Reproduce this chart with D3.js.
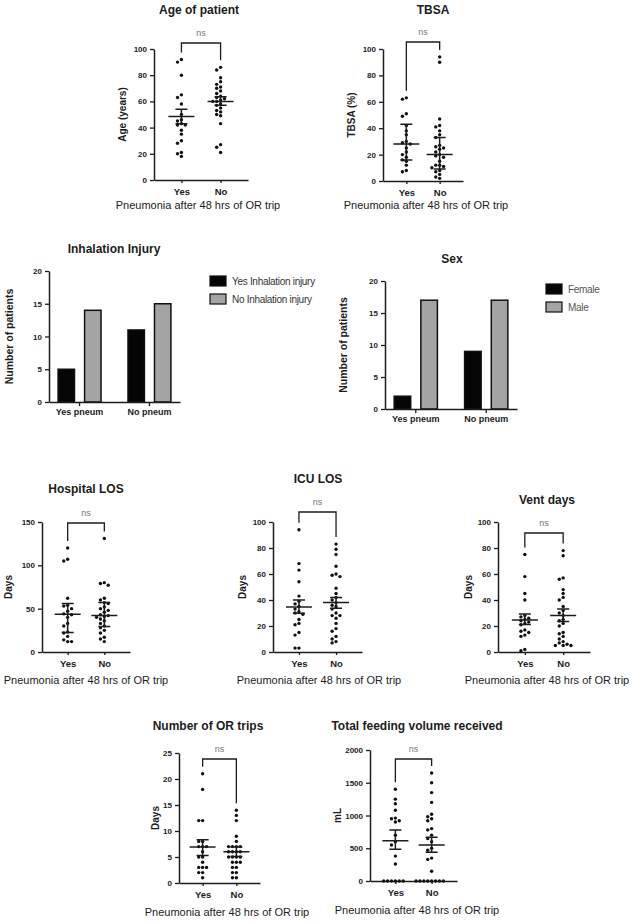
<!DOCTYPE html>
<html>
<head>
<meta charset="utf-8">
<script src="https://cdn.jsdelivr.net/npm/d3@7"></script>
<style>
  body { margin: 0; background: #fff; }
  svg { font-family: "Liberation Sans", Arial, sans-serif; }
</style>
</head>
<body>
<div id="chart"></div>
<script>
// groups on every scatter panel
var groups = ['Yes', 'No'];

// individual patient values (Yes n=19, No n=26)
var ageYes = [92, 90, 80, 65, 63, 58, 50, 46, 45, 43, 42, 42, 38, 35, 30, 28, 21, 20, 18];
var ageNo = [86, 84, 78, 75, 73, 71, 70, 68, 66, 64, 63, 62, 61, 60, 60, 58, 57, 55, 53, 52, 50, 49, 43, 27, 25, 21];
var tbsaYes = [63, 62, 51, 49, 42, 38, 35, 30, 29, 28, 25, 22, 20, 18, 16, 15, 12, 8, 7];
var tbsaNo = [94, 90, 47, 42, 41, 38, 35, 33, 27, 26, 25, 24, 22, 20, 19, 18, 15, 12, 12, 11, 10, 8, 7, 5, 3, 2];
var hospYes = [120, 107, 105, 62, 54, 53, 50, 47, 44, 43, 40, 33, 30, 23, 22, 18, 14, 12, 12];
var hospNo = [131, 80, 79, 77, 62, 60, 57, 56, 52, 50, 48, 46, 43, 42, 41, 40, 38, 36, 33, 30, 28, 25, 22, 17, 15, 12];
var icuYes = [94, 68, 63, 54, 43, 39, 37, 35, 33, 31, 30, 29, 25, 22, 21, 15, 13, 3, 3];
var icuNo = [83, 79, 75, 66, 60, 59, 58, 49, 45, 42, 40, 38, 36, 35, 33, 30, 28, 28, 26, 22, 18, 16, 12, 10, 8, 7];
var ventYes = [75, 58, 45, 40, 28, 27, 26, 25, 24, 23, 22, 21, 17, 16, 15, 13, 12, 2, 1];
var ventNo = [78, 74, 57, 56, 48, 45, 42, 40, 35, 32, 30, 28, 25, 24, 22, 20, 15, 14, 12, 10, 8, 7, 6, 5, 5, 5];
var orYes = [21, 18, 12, 12, 8, 8, 7, 7, 7, 6, 5, 5, 4, 3, 3, 3, 2, 2, 1];
var orNo = [14, 13, 12, 9, 8, 7, 7, 7, 7, 6, 6, 6, 6, 5, 5, 5, 5, 4, 4, 4, 3, 3, 2, 2, 1, 1];
var feedYes = [1400, 1250, 1180, 1080, 960, 950, 920, 900, 700, 600, 550, 380, 260, 0, 0, 0, 0, 0, 0];
var feedNo = [1650, 1500, 1350, 1200, 1020, 980, 950, 920, 800, 780, 700, 650, 600, 500, 470, 350, 330, 150, 0, 0, 0, 0, 0, 0, 0, 0];

// centre line and error bar ends [centre, low, high] for Yes and No
var ageSummary = [[48.5, 43, 54], [60, 57, 63.5]];
var tbsaSummary = [[28, 16, 43], [20, 9, 33]];
var hospSummary = [[43.5, 22.5, 56], [42, 29.5, 57]];
var icuSummary = [[34.7, 29.8, 40], [38, 33.7, 42]];
var ventSummary = [[24.7, 21.2, 29.3], [28, 23.5, 33]];
var orSummary = [[6.9, 5.3, 8.3], [6, 5.1, 6.9]];
var feedSummary = [[616, 483, 778], [550, 438, 667]];

// bar charts
var barCats = ['Yes pneum', 'No pneum'];
var inhalSeries = ['Yes Inhalation injury', 'No Inhalation injury'];
var inhalYes = [5, 11];
var inhalNo = [14, 15];
var sexSeries = ['Female', 'Male'];
var sexFemale = [2, 9];
var sexMale = [17, 17];

var xTitle = 'Pneumonia after 48 hrs of OR trip';
var ink = '#1c1c1c';

var svg = d3.select('#chart').append('svg')
    .attr('width', 633)
    .attr('height', 923);

var scatterPanels = [
  {title: 'Age of patient', ylab: 'Age (years)', vals: [ageYes, ageNo], sum: ageSummary,
   domain: [0, 100], ticks: d3.range(0, 101, 20), ax: 154, x1: 248, y0: 180, y1: 49,
   titleX: 199, titleY: 10, bracketY: 43, ylabX: 122, xlabX: 198, xlabY: 205},
  {title: 'TBSA', ylab: 'TBSA (%)', vals: [tbsaYes, tbsaNo], sum: tbsaSummary,
   domain: [0, 100], ticks: d3.range(0, 101, 20), ax: 383, x1: 463, y0: 181, y1: 49,
   titleX: 433, titleY: 10, bracketY: 42, ylabX: 351, xlabX: 426, xlabY: 205},
  {title: 'Hospital LOS', ylab: 'Days', vals: [hospYes, hospNo], sum: hospSummary,
   domain: [0, 150], ticks: [0, 50, 100, 150], ax: 42, x1: 130, y0: 652, y1: 522,
   titleX: 86, titleY: 489, bracketY: 523, ylabX: 8, xlabX: 86, xlabY: 680},
  {title: 'ICU LOS', ylab: 'Days', vals: [icuYes, icuNo], sum: icuSummary,
   domain: [0, 100], ticks: d3.range(0, 101, 20), ax: 273, x1: 362, y0: 652, y1: 522,
   titleX: 318, titleY: 479, bracketY: 512, ylabX: 242, xlabX: 319, xlabY: 680},
  {title: 'Vent days', ylab: 'Days', vals: [ventYes, ventNo], sum: ventSummary,
   domain: [0, 100], ticks: d3.range(0, 101, 20), ax: 498, x1: 590, y0: 652, y1: 522,
   titleX: 547, titleY: 500, bracketY: 533, ylabX: 468, xlabX: 547, xlabY: 680},
  {title: 'Number of OR trips', ylab: 'Days', vals: [orYes, orNo], sum: orSummary,
   domain: [0, 25], ticks: d3.range(0, 26, 5), ax: 179, x1: 260, y0: 883, y1: 753,
   titleX: 208, titleY: 726, bracketY: 759, ylabX: 155, xlabX: 227, xlabY: 912},
  {title: 'Total feeding volume received', ylab: 'mL', vals: [feedYes, feedNo], sum: feedSummary,
   domain: [0, 2000], ticks: d3.range(0, 2001, 500), ax: 370, x1: 457, y0: 881, y1: 750,
   titleX: 417, titleY: 726, bracketY: 759, ylabX: 337, xlabX: 417, xlabY: 910}
];

// spread points with close values sideways so they do not overlap
function swarm(vals, cx, y) {
  var placed = [];
  vals.slice().sort(d3.descending).forEach(function(v) {
    var py = y(v);
    for (var k = 0; k < 40; k++) {
      var px = cx + (k % 2 ? -1 : 1) * Math.ceil(k / 2) * 3.9;
      var free = placed.every(function(q) {
        return (q.x - px) * (q.x - px) + (q.y - py) * (q.y - py) >= 3.7 * 3.7;
      });
      if (free) { placed.push({x: px, y: py}); break; }
    }
  });
  return placed;
}

function styleAxis(sel, size, weight) {
  sel.select('.domain').attr('stroke', ink).attr('stroke-width', 1.5);
  sel.selectAll('.tick line').attr('stroke', ink).attr('stroke-width', 1.3);
  sel.selectAll('.tick text')
    .attr('fill', ink)
    .attr('font-family', '"Liberation Sans", Arial, sans-serif')
    .attr('font-size', size)
    .attr('font-weight', weight);
}

function drawScatter(p) {
  var y = d3.scaleLinear().domain(p.domain).range([p.y0, p.y1]);
  var x = d3.scalePoint().domain(groups).range([p.ax, p.x1]).padding(0.7);
  var g = svg.append('g');

  g.append('g')
    .attr('transform', 'translate(' + p.ax + ',0)')
    .call(d3.axisLeft(y).tickValues(p.ticks).tickFormat(d3.format('d'))
      .tickSize(4).tickSizeOuter(0).tickPadding(3))
    .call(styleAxis, 8, 'bold');

  g.append('g')
    .attr('transform', 'translate(0,' + p.y0 + ')')
    .call(d3.axisBottom(x).tickSize(3).tickSizeOuter(0).tickPadding(5))
    .call(styleAxis, 9.5, 'bold');

  groups.forEach(function(grp, i) {
    var cx = x(grp);
    g.selectAll(null)
      .data(swarm(p.vals[i], cx, y))
      .enter().append('circle')
      .attr('cx', function(d) { return d.x; })
      .attr('cy', function(d) { return d.y; })
      .attr('r', 1.7)
      .attr('fill', '#111');

    var s = p.sum[i];
    var path = d3.path();
    path.moveTo(cx - 13, y(s[0])); path.lineTo(cx + 13, y(s[0]));
    path.moveTo(cx, y(s[1])); path.lineTo(cx, y(s[2]));
    path.moveTo(cx - 6, y(s[1])); path.lineTo(cx + 6, y(s[1]));
    path.moveTo(cx - 6, y(s[2])); path.lineTo(cx + 6, y(s[2]));
    g.append('path')
      .attr('d', path.toString())
      .attr('fill', 'none')
      .attr('stroke', ink)
      .attr('stroke-width', 1.5);
  });

  // significance bracket
  var legs = p.vals.map(function(v) { return Math.max(p.bracketY + 6, y(d3.max(v)) - 7); });
  g.append('path')
    .attr('d', 'M' + x('Yes') + ',' + legs[0] + 'V' + p.bracketY + 'H' + x('No') + 'V' + legs[1])
    .attr('fill', 'none')
    .attr('stroke', ink)
    .attr('stroke-width', 1.3);
  g.append('text')
    .attr('x', (x('Yes') + x('No')) / 2)
    .attr('y', p.bracketY - 10)
    .attr('dy', '0.35em')
    .attr('text-anchor', 'middle')
    .attr('font-size', 9)
    .attr('fill', '#777')
    .text('ns');

  g.append('text')
    .attr('x', p.titleX)
    .attr('y', p.titleY)
    .attr('dy', '0.35em')
    .attr('text-anchor', 'middle')
    .attr('font-size', 12)
    .attr('font-weight', 'bold')
    .attr('fill', ink)
    .text(p.title);

  g.append('text')
    .attr('transform', 'translate(' + p.ylabX + ',' + (p.y0 + p.y1) / 2 + ') rotate(-90)')
    .attr('dy', '0.35em')
    .attr('text-anchor', 'middle')
    .attr('font-size', 10)
    .attr('font-weight', 'bold')
    .attr('fill', ink)
    .text(p.ylab);

  g.append('text')
    .attr('x', p.xlabX)
    .attr('y', p.xlabY)
    .attr('dy', '0.35em')
    .attr('text-anchor', 'middle')
    .attr('font-size', 11)
    .attr('fill', ink)
    .text(xTitle);
}

scatterPanels.forEach(drawScatter);

var barPanels = [
  {title: 'Inhalation Injury', series: inhalSeries, vals: [inhalYes, inhalNo],
   ax: 49, x1: 180, y0: 402, y1: 271, titleX: 114, titleY: 249, ylabX: 9,
   legX: 210, legY: 276, legTextColor: '#333'},
  {title: 'Sex', series: sexSeries, vals: [sexFemale, sexMale],
   ax: 385, x1: 517, y0: 409, y1: 281, titleX: 452, titleY: 259, ylabX: 343,
   legX: 546, legY: 284, legTextColor: '#555'}
];

var barFills = ['#050505', '#a4a4a4'];

function drawBars(b) {
  var y = d3.scaleLinear().domain([0, 20]).range([b.y0, b.y1]);
  var x0 = d3.scaleBand().domain(barCats).range([b.ax, b.x1]).paddingInner(0.386).paddingOuter(0.13);
  var x1 = d3.scaleBand().domain(b.series).range([0, x0.bandwidth()]).paddingInner(0.38);
  var g = svg.append('g');

  b.series.forEach(function(s, i) {
    g.selectAll(null)
      .data(barCats.map(function(c, j) { return {cat: c, v: b.vals[i][j]}; }))
      .enter().append('rect')
      .attr('x', function(d) { return x0(d.cat) + x1(s); })
      .attr('y', function(d) { return y(d.v); })
      .attr('width', x1.bandwidth())
      .attr('height', function(d) { return y(0) - y(d.v); })
      .attr('fill', barFills[i])
      .attr('stroke', '#111')
      .attr('stroke-width', 1.5);
  });

  g.append('g')
    .attr('transform', 'translate(' + b.ax + ',0)')
    .call(d3.axisLeft(y).tickValues([0, 5, 10, 15, 20]).tickSize(4).tickSizeOuter(0).tickPadding(3))
    .call(styleAxis, 8, 'bold');

  g.append('g')
    .attr('transform', 'translate(0,' + b.y0 + ')')
    .call(d3.axisBottom(x0).tickSize(4).tickSizeOuter(0).tickPadding(3))
    .call(styleAxis, 9, 'bold');

  g.append('text')
    .attr('x', b.titleX)
    .attr('y', b.titleY)
    .attr('dy', '0.35em')
    .attr('text-anchor', 'middle')
    .attr('font-size', 12)
    .attr('font-weight', 'bold')
    .attr('fill', ink)
    .text(b.title);

  g.append('text')
    .attr('transform', 'translate(' + b.ylabX + ',' + (b.y0 + b.y1) / 2 + ') rotate(-90)')
    .attr('dy', '0.35em')
    .attr('text-anchor', 'middle')
    .attr('font-size', 10.5)
    .attr('font-weight', 'bold')
    .attr('fill', ink)
    .text('Number of patients');

  var leg = g.selectAll(null)
    .data(b.series)
    .enter().append('g')
    .attr('transform', function(d, i) { return 'translate(' + b.legX + ',' + (b.legY + i * 18) + ')'; });
  leg.append('rect')
    .attr('width', 16)
    .attr('height', 10)
    .attr('fill', function(d, i) { return barFills[i]; })
    .attr('stroke', '#111')
    .attr('stroke-width', 1.2);
  leg.append('text')
    .attr('x', 22)
    .attr('y', 5)
    .attr('dy', '0.35em')
    .attr('font-size', 10)
    .attr('letter-spacing', -0.3)
    .attr('fill', b.legTextColor)
    .text(function(d) { return d; });
}

barPanels.forEach(drawBars);
</script>
</body>
</html>
